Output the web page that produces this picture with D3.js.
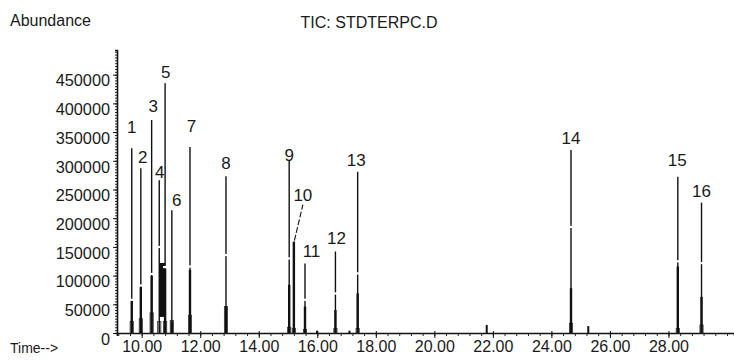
<!DOCTYPE html>
<html>
<head>
<meta charset="utf-8">
<script src="https://cdn.jsdelivr.net/npm/d3@7"></script>
<style>
  body { margin: 0; background: #fff; }
  svg text { font-family: "Liberation Sans", Arial, sans-serif; fill: #1a1a1a; }
</style>
</head>
<body>
<div id="chart"></div>
<script>
// peak table
const peakNums = ["1", "2", "3", "4", "5", "6", "7", "8", "9", "10", "11", "12", "13", "14", "15", "16"];
const peakTimes = [9.66, 9.97, 10.34, 10.60, 10.80, 11.03, 11.65, 12.88, 15.04, 15.20, 15.58, 16.62, 17.38, 24.67, 28.32, 29.13];
const peakHeights = [322000, 287000, 371000, 266000, 435000, 214000, 324000, 273000, 300000, 159000, 121000, 142000, 281000, 319000, 272000, 227000];
// where the printed line breaks, and where the heavy lower part starts
const breakHeights = [58000, 83000, 103000, 150000, 115000, 0, 116000, 136000, 130000, 0, 58000, 69000, 104000, 185000, 125000, 122000];
const bodyHeights = [56000, 80000, 100000, 0, 112000, 20000, 110000, 46000, 84000, 159000, 46000, 40000, 69000, 78000, 116000, 63000];
const footHeights = [20000, 25000, 35000, 20000, 20000, 22000, 31000, 46000, 10000, 8000, 6000, 8000, 8000, 17000, 8000, 14000];

// unresolved hump between peaks 4 and 5
const clusterTimes = [10.60, 10.80];
const clusterHeights = [28000, 122000];

// small unlabelled bumps
const minorTimes = [15.99, 17.10, 21.79, 25.26];
const minorHeights = [4000, 4000, 14000, 12000];

const yTickValues = [0, 50000, 100000, 150000, 200000, 250000, 300000, 350000, 400000, 450000];
const xTickValues = [10, 12, 14, 16, 18, 20, 22, 24, 26, 28];

const width = 734, height = 363;

const svg = d3.select("#chart")
    .append("svg")
    .attr("width", width)
    .attr("height", height);

const x = d3.scaleLinear().domain([9.156, 30.24]).range([117, 734]);
const y = d3.scaleLinear().domain([0, 493000]).range([333, 50]);

// y axis: dense minor ticks + labelled majors
svg.append("g")
    .attr("transform", `translate(${x(9.156)},0)`)
    .call(d3.axisLeft(y).tickValues(d3.range(0, 490001, 5000)).tickSize(2).tickFormat(""))
    .call(g => g.select(".domain").attr("stroke-width", 1.6).attr("stroke", "#111"))
    .call(g => g.selectAll(".tick line").attr("stroke", "#222"));

svg.append("g")
    .attr("transform", `translate(${x(9.156)},0)`)
    .call(d3.axisLeft(y).tickValues(yTickValues).tickSize(4).tickPadding(3).tickFormat(d3.format("d")))
    .call(g => g.select(".domain").remove())
    .call(g => g.selectAll(".tick line").attr("stroke", "#111"))
    .call(g => g.selectAll("text")
        .attr("font-size", 16.3)
        .attr("transform", "translate(0,6)"));

// x axis
svg.append("g")
    .attr("transform", `translate(0,${y(0)})`)
    .call(d3.axisBottom(x).tickValues(d3.range(9.2, 30.3, 0.4)).tickSize(3).tickFormat(""))
    .call(g => g.select(".domain").attr("stroke-width", 1.6).attr("stroke", "#111"))
    .call(g => g.selectAll(".tick line").attr("stroke", "#222"));

svg.append("g")
    .attr("transform", `translate(0,${y(0)})`)
    .call(d3.axisBottom(x).tickValues(xTickValues).tickSize(5).tickPadding(3).tickFormat(d3.format(".2f")))
    .call(g => g.select(".domain").remove())
    .call(g => g.selectAll(".tick line").attr("y1", -2).attr("stroke", "#111"))
    .call(g => g.selectAll("text").attr("font-size", 16));

// trace
const trace = svg.append("g");

trace.append("rect")
    .attr("x", x(clusterTimes[0]))
    .attr("y", y(clusterHeights[1]))
    .attr("width", x(clusterTimes[1]) - x(clusterTimes[0]))
    .attr("height", y(clusterHeights[0]) - y(clusterHeights[1]))
    .attr("fill", "#111");

const footW = 0.11;
trace.selectAll("rect.foot")
    .data(peakTimes)
    .join("rect")
    .attr("class", "foot")
    .attr("x", (d, i) => x(d - footW / 2))
    .attr("y", (d, i) => y(footHeights[i]))
    .attr("width", x(footW) - x(0))
    .attr("height", (d, i) => y(0) - y(footHeights[i]))
    .attr("fill", "#bbb")
    .attr("stroke", "#333")
    .attr("stroke-width", 0.8);

trace.selectAll("line.apex")
    .data(peakTimes)
    .join("line")
    .attr("class", "apex")
    .attr("x1", d => x(d)).attr("x2", d => x(d))
    .attr("y1", y(0))
    .attr("y2", (d, i) => y(peakHeights[i]))
    .attr("stroke", "#111")
    .attr("stroke-width", 1.4);

trace.selectAll("line.body")
    .data(peakTimes)
    .join("line")
    .attr("class", "body")
    .attr("x1", d => x(d)).attr("x2", d => x(d))
    .attr("y1", y(0))
    .attr("y2", (d, i) => y(bodyHeights[i]))
    .attr("stroke", "#111")
    .attr("stroke-width", 2.4);

trace.selectAll("rect.break")
    .data(peakTimes.filter((d, i) => breakHeights[i] > 0))
    .join("rect")
    .attr("class", "break")
    .attr("x", d => x(d) - 2)
    .attr("y", d => y(breakHeights[peakTimes.indexOf(d)]) - 1)
    .attr("width", 4)
    .attr("height", 2.2)
    .attr("fill", "#fff");

trace.selectAll("line.minor")
    .data(minorTimes)
    .join("line")
    .attr("class", "minor")
    .attr("x1", d => x(d)).attr("x2", d => x(d))
    .attr("y1", y(0))
    .attr("y2", (d, i) => y(minorHeights[i]))
    .attr("stroke", "#111")
    .attr("stroke-width", 2);

// peak numbers; nudges where the printout shifted a label
const nudge = {
    "1": [0, -21], "2": [2, -11], "3": [1.5, -14], "4": [0.5, -8], "5": [0.5, -11],
    "6": [5, -10], "7": [1.5, -21], "8": [0, -13], "9": [0, -6], "10": [9, -47],
    "11": [6.5, -12], "12": [1, -13], "13": [-1.5, -12], "14": [0, -12], "15": [-0.5, -17], "16": [0, -12]
};

trace.selectAll("text.peak")
    .data(peakNums)
    .join("text")
    .attr("class", "peak")
    .attr("x", (d, i) => x(peakTimes[i]) + nudge[d][0])
    .attr("y", (d, i) => y(peakHeights[i]) + nudge[d][1])
    .attr("dy", "0.35em")
    .attr("text-anchor", "middle")
    .attr("font-size", 17)
    .text(d => d);

// leader for peak 10
const i10 = peakNums.indexOf("10");
trace.append("line")
    .attr("x1", x(peakTimes[i10]) + 0.5)
    .attr("y1", y(peakHeights[i10]) - 1)
    .attr("x2", x(peakTimes[i10]) + 9)
    .attr("y2", y(peakHeights[i10]) - 37)
    .attr("stroke", "#111")
    .attr("stroke-width", 1.1)
    .attr("stroke-dasharray", "6,2");

// captions
svg.append("text")
    .attr("x", 10).attr("y", 20).attr("dy", "0.35em")
    .attr("font-size", 16)
    .text("Abundance");

svg.append("text")
    .attr("x", 10).attr("y", 348).attr("dy", "0.35em")
    .attr("font-size", 14)
    .text("Time-->");

svg.append("text")
    .attr("x", 369).attr("y", 22).attr("dy", "0.35em")
    .attr("text-anchor", "middle")
    .attr("font-size", 16)
    .text("TIC: STDTERPC.D");
</script>
</body>
</html>
